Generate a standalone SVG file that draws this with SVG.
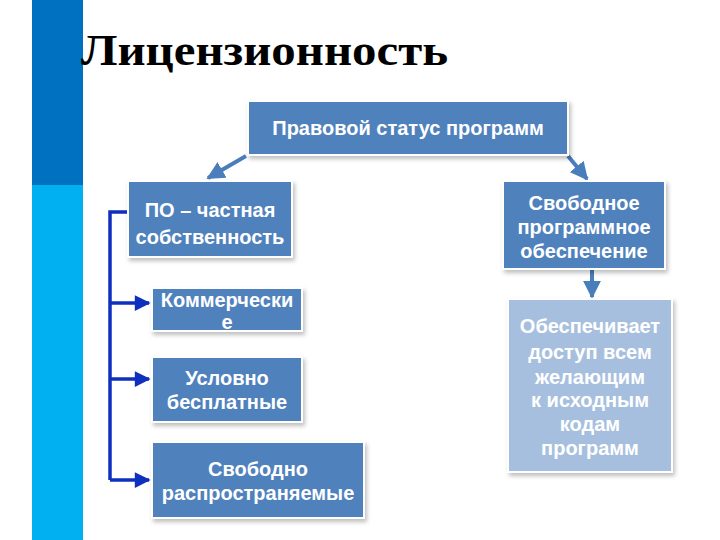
<svg xmlns="http://www.w3.org/2000/svg" width="720" height="540" viewBox="0 0 720 540">
  <defs>
    <style>
      .box { fill: #4f81bd; stroke: #ffffff; stroke-width: 2; filter: url(#shadow); }
      .light { fill: #a7bfde; stroke: #ffffff; stroke-width: 2; filter: url(#shadow); }
      .t { font-family: "Liberation Sans", Arial, sans-serif; font-weight: bold; font-size: 20px; fill: #ffffff; text-anchor: middle; }
      .title { font-family: "Liberation Serif", "Times New Roman", serif; font-weight: bold; font-size: 44px; fill: #000000; }
      .arr { stroke: #4a7ebb; stroke-width: 4; fill: none; }
      .conn { stroke: #0f2fbf; stroke-width: 3.5; fill: none; }
    </style>
    <filter id="shadow" x="-10%" y="-10%" width="125%" height="130%">
      <feDropShadow dx="2" dy="3" stdDeviation="2" flood-color="#000000" flood-opacity="0.25"/>
    </filter>
    <marker id="ah" viewBox="0 0 10 10" refX="9" refY="5" markerWidth="4.5" markerHeight="4.5" orient="auto" markerUnits="strokeWidth">
      <path d="M0,0 L10,5 L0,10 z" fill="#4a7ebb"/>
    </marker>
    <marker id="bh" viewBox="0 0 10 10" refX="9" refY="5" markerWidth="5" markerHeight="4.5" orient="auto" markerUnits="strokeWidth">
      <path d="M0,0 L10,5 L0,10 z" fill="#0f2fbf"/>
    </marker>
  </defs>

  <g id="sidebar">
    <rect x="32" y="0" width="51" height="185" fill="#0070c0"/>
    <rect x="32" y="185" width="51" height="355" fill="#00b0f0"/>
  </g>

  <text class="title" x="81" y="65" textLength="367" lengthAdjust="spacingAndGlyphs">Лицензионность</text>

  <g id="connectors">
    <line class="arr" x1="246" y1="156" x2="208" y2="178" marker-end="url(#ah)"/>
    <line class="arr" x1="568" y1="156" x2="587" y2="179" marker-end="url(#ah)"/>
    <line class="arr" x1="592" y1="270" x2="592" y2="297" marker-end="url(#ah)"/>
    <polyline class="conn" points="135,212 110,212 110,480"/>
    <line class="conn" x1="110" y1="303" x2="149" y2="303" marker-end="url(#bh)"/>
    <line class="conn" x1="110" y1="379" x2="149" y2="379" marker-end="url(#bh)"/>
    <line class="conn" x1="110" y1="480" x2="149" y2="480" marker-end="url(#bh)"/>
  </g>

  <g id="n-status">
    <rect class="box" x="248" y="101" width="320" height="54"/>
    <text class="t" x="408" y="135">Правовой статус программ</text>
  </g>

  <g id="n-private">
    <rect class="box" x="128" y="181" width="164" height="76"/>
    <text class="t" x="210" y="217">ПО – частная</text>
    <text class="t" x="210" y="244">собственность</text>
  </g>

  <g id="n-free">
    <rect class="box" x="503" y="181" width="162" height="88"/>
    <text class="t" x="584" y="210">Свободное</text>
    <text class="t" x="584" y="234">программное</text>
    <text class="t" x="584" y="258">обеспечение</text>
  </g>

  <g id="n-access">
    <rect class="light" x="508" y="299" width="164" height="173"/>
    <text class="t" x="590" y="333">Обеспечивает</text>
    <text class="t" x="590" y="359">доступ всем</text>
    <text class="t" x="590" y="384">желающим</text>
    <text class="t" x="590" y="407">к исходным</text>
    <text class="t" x="590" y="431">кодам</text>
    <text class="t" x="590" y="455">программ</text>
  </g>

  <g id="n-commercial">
    <rect class="box" x="152" y="288" width="150" height="43"/>
    <text class="t" x="227" y="307">Коммерчески</text>
    <text class="t" x="227" y="329">е</text>
  </g>

  <g id="n-shareware">
    <rect class="box" x="152" y="357" width="150" height="65"/>
    <text class="t" x="227" y="385">Условно</text>
    <text class="t" x="227" y="409">бесплатные</text>
  </g>

  <g id="n-freeware">
    <rect class="box" x="152" y="442" width="212" height="76"/>
    <text class="t" x="258" y="476">Свободно</text>
    <text class="t" x="258" y="500">распространяемые</text>
  </g>
</svg>
